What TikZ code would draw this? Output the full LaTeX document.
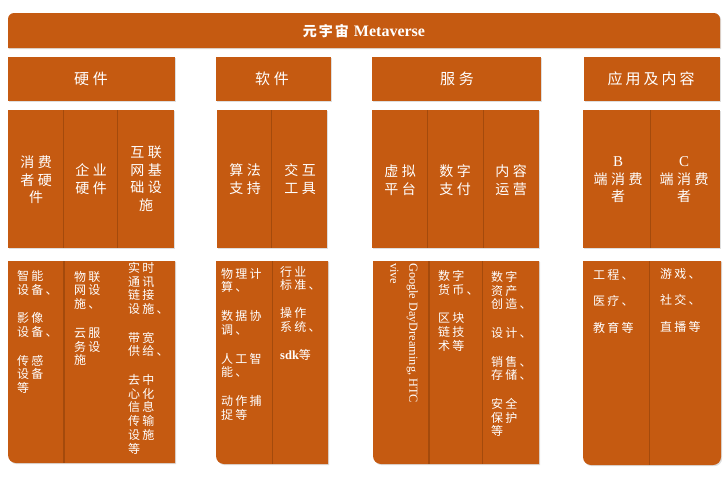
\documentclass[tikz,border=0pt]{standalone}
\usepackage{fontspec}
\setmainfont{Liberation Serif}
\newfontfamily\cjk{Noto Sans CJK SC}
\definecolor{bo}{HTML}{C55A11}
\definecolor{bod}{HTML}{A44A0C}
\newdimen\lspamt
\makeatletter
\def\sx#1{\sx@a#1\@nil}
\def\sx@a#1{#1\sx@}
\def\sx@#1{\ifx#1\@nil\else\hskip\lspamt\relax#1\expandafter\sx@\fi}
\makeatother
\tikzset{
  panel/.style={fill=bo},
  shad/.style={fill=black, opacity=0.13, xshift=1.2pt, yshift=-1.2pt},
  divider/.style={draw=bod, line width=0.8pt},
  titletext/.style={text=white, inner sep=0},
  headtext/.style={text=white, inner sep=0, font={\cjk\fontsize{15}{18}\selectfont\lspamt=4pt}},
  midtext/.style={text=white, inner sep=0, align=center, font={\cjk\fontsize{14}{17.5}\selectfont\lspamt=3.5pt}},
  lowtext/.style={text=white, inner sep=0, align=left, anchor=north west, font={\cjk\fontsize{12}{13.7}\selectfont\lspamt=2.2pt}},
}
\begin{document}
\begin{tikzpicture}[x=1pt, y=-1pt]
\useasboundingbox (0,0) rectangle (728,477);
\fill[white] (0,0) rectangle (728,477);

% ---------- top bar ----------
\fill[shad] (8,48) -- (8,19) .. controls (8,15.7) and (10.7,13) .. (14,13) -- (714,13) .. controls (717.3,13) and (720,15.7) .. (720,19) -- (720,48) -- cycle;
\fill[panel] (8,48) -- (8,19) .. controls (8,15.7) and (10.7,13) .. (14,13) -- (714,13) .. controls (717.3,13) and (720,15.7) .. (720,19) -- (720,48) -- cycle;
\node[titletext] (title) at (364,31) {{\cjk\fontsize{14}{16}\selectfont\bfseries\lspamt=2pt\sx{元宇宙}}\hskip 5pt{\fontsize{16}{18}\selectfont\bfseries Metaverse}};

% ---------- header boxes ----------
\foreach \a/\b in {8/175, 216/331, 372/541, 584/720}{
  \fill[shad] (\a,57) rectangle (\b,101);
  \fill[panel] (\a,57) rectangle (\b,101);
}
\node[headtext] (hHW) at (91,79) {\sx{硬件}};
\node[headtext] (hSW) at (272,79) {\sx{软件}};
\node[headtext] (hSV) at (457,79) {\sx{服务}};
\node[headtext] (hAP) at (651,79) {\lspamt=3pt\sx{应用及内容}};

% ---------- middle boxes ----------
\foreach \a/\b in {8/174, 217/327, 372/539, 583/720}{
  \fill[shad] (\a,110) rectangle (\b,248);
  \fill[panel] (\a,110) rectangle (\b,248);
}
\draw[divider, line width=0.5pt] (63,110) -- (63,248);
\draw[divider, line width=0.5pt] (117,110) -- (117,248);
\draw[divider, line width=0.5pt] (271,110) -- (271,248);
\draw[divider, line width=0.5pt] (427,110) -- (427,248);
\draw[divider, line width=0.5pt] (483,110) -- (483,248);
\draw[divider, line width=0.5pt] (650,110) -- (650,248);

\node[midtext] (m1) at (36,180) {\sx{消费}\\\sx{者硬}\\\sx{件}};
\node[midtext] (m2) at (91,179) {\sx{企业}\\\sx{硬件}};
\node[midtext] (m3) at (146,179) {\sx{互联}\\\sx{网基}\\\sx{础设}\\\sx{施}};
\node[midtext] (m4) at (245,179) {\sx{算法}\\\sx{支持}};
\node[midtext] (m5) at (300,179) {\sx{交互}\\\sx{工具}};
\node[midtext] (m6) at (400,180) {\sx{虚拟}\\\sx{平台}};
\node[midtext] (m7) at (455,180) {\sx{数字}\\\sx{支付}};
\node[midtext] (m8) at (511,180) {\sx{内容}\\\sx{运营}};
\node[midtext] (m9) at (618,180) {{\rmfamily\fontsize{15}{17.5}\selectfont B}\\\sx{端消费}\\\sx{者}};
\node[midtext] (m10) at (684,180) {{\rmfamily\fontsize{15}{17.5}\selectfont C}\\\sx{端消费}\\\sx{者}};

% ---------- bottom boxes ----------
\fill[shad] (8,261) -- (8,455) .. controls (8,459.4) and (11.6,463) .. (16,463) -- (175,463) -- (175,261) -- cycle;
\fill[panel] (8,261) -- (8,455) .. controls (8,459.4) and (11.6,463) .. (16,463) -- (175,463) -- (175,261) -- cycle;
\fill[shad] (216,261) -- (216,456) .. controls (216,460.4) and (219.6,464) .. (224,464) -- (328,464) -- (328,261) -- cycle;
\fill[panel] (216,261) -- (216,456) .. controls (216,460.4) and (219.6,464) .. (224,464) -- (328,464) -- (328,261) -- cycle;
\fill[shad] (373,261) -- (373,456) .. controls (373,460.4) and (376.6,464) .. (381,464) -- (539,464) -- (539,261) -- cycle;
\fill[panel] (373,261) -- (373,456) .. controls (373,460.4) and (376.6,464) .. (381,464) -- (539,464) -- (539,261) -- cycle;
\fill[shad] (583,261) -- (583,457) .. controls (583,461.4) and (586.6,465) .. (591,465) -- (713,465) .. controls (717.4,465) and (721,461.4) .. (721,457) -- (721,261) -- cycle;
\fill[panel] (583,261) -- (583,457) .. controls (583,461.4) and (586.6,465) .. (591,465) -- (713,465) .. controls (717.4,465) and (721,461.4) .. (721,457) -- (721,261) -- cycle;

\draw[divider, line width=1.1pt] (64,261) -- (64,463);
\draw[divider] (272,261) -- (272,464);
\draw[divider, line width=1.1pt] (429,261) -- (429,464);
\draw[divider] (482,261) -- (482,464);
\draw[divider] (649,261) -- (649,465);

\node[lowtext] (b1) at (17,270) {\sx{智能}\\\sx{设备、}\\[15pt]\sx{影像}\\\sx{设备、}\\[15pt]\sx{传感}\\\sx{设备}\\\sx{等}};
\node[lowtext] (b2) at (74,271) {\sx{物联}\\\sx{网设}\\\sx{施、}\\[15pt]\sx{云服}\\\sx{务设}\\\sx{施}};
\node[lowtext] (b3) at (128,262) {\sx{实时}\\\sx{通讯}\\\sx{链接}\\\sx{设施、}\\[15pt]\sx{带宽}\\\sx{供给、}\\[15pt]\sx{去中}\\\sx{心化}\\\sx{信息}\\\sx{传输}\\\sx{设施}\\\sx{等}};
\node[lowtext] (b4) at (221,268) {\sx{物理计}\\\sx{算、}\\[15pt]\sx{数据协}\\\sx{调、}\\[15pt]\sx{人工智}\\\sx{能、}\\[15pt]\sx{动作捕}\\\sx{捉等}};
\node[lowtext] (b5) at (280,266) {\sx{行业}\\\sx{标准、}\\[14pt]\sx{操作}\\\sx{系统、}\\[14pt]{\rmfamily\bfseries\fontsize{12.5}{13.7}\selectfont sdk}等};
\node[rotate=-90, anchor=north west, inner sep=0, align=left, text=white, font={\fontsize{12.3}{19}\selectfont}] (b6) at (418,263) {Google DayDreaming, HTC\\vive};
\node[lowtext] (b7) at (438,270) {\sx{数字}\\\sx{货币、}\\[15pt]\sx{区块}\\\sx{链技}\\\sx{术等}};
\node[lowtext] (b8) at (491,271) {\sx{数字}\\\sx{资产}\\\sx{创造、}\\[15pt]\sx{设计、}\\[15pt]\sx{销售、}\\\sx{存储、}\\[15pt]\sx{安全}\\\sx{保护}\\\sx{等}};
\node[lowtext] (b9) at (593,269) {\sx{工程、}\\[13pt]\sx{医疗、}\\[13pt]\sx{教育等}};
\node[lowtext] (b10) at (660,268) {\sx{游戏、}\\[13pt]\sx{社交、}\\[13pt]\sx{直播等}};
\end{tikzpicture}
\end{document}
